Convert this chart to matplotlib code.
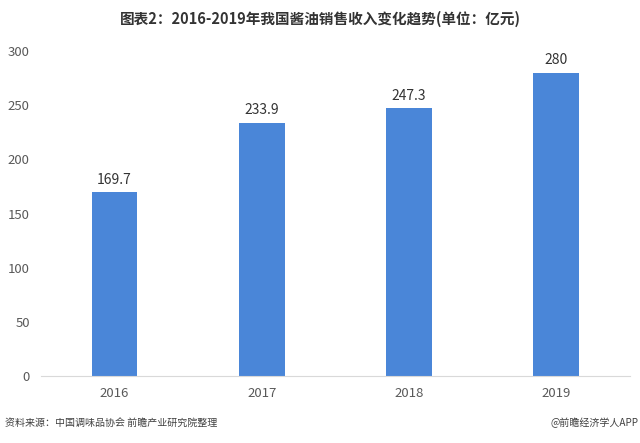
import matplotlib
matplotlib.use('Agg')
import matplotlib.pyplot as plt
import numpy as np

plt.rcParams['font.family'] = ['Noto Sans CJK SC', 'DejaVu Sans']

years = ['2016', '2017', '2018', '2019']
revenue = [169.7, 233.9, 247.3, 280]
yticks = [0, 50, 100, 150, 200, 250, 300]

fig = plt.figure(figsize=(6.4, 4.43), dpi=100)
ax = fig.add_axes([0.064, 0.151, 0.92, 0.734])

x = np.arange(len(years))
ax.bar(x, revenue, width=0.31, color='#4a86d8', zorder=2)
for xi, v in zip(x, revenue):
    ax.text(xi, v + 5, f'{v:g}', ha='center', va='bottom', fontsize=10, color='#333333')

ax.set_xlim(-0.5, 3.5)
ax.set_ylim(0, 300)
ax.set_xticks(x)
ax.set_xticklabels(years)
ax.set_yticks(yticks)
ax.tick_params(axis='both', length=0, labelsize=9.5, labelcolor='#595959')
ax.tick_params(axis='x', pad=8)
ax.tick_params(axis='y', pad=8)
for s in ['top', 'right', 'left']:
    ax.spines[s].set_visible(False)
ax.spines['bottom'].set_color('#d9d9d9')

fig.text(0.5, 0.958, '图表2：2016-2019年我国酱油销售收入变化趋势(单位：亿元)',
         ha='center', va='center', fontsize=10.5, fontweight='bold', color='#333333')
fig.text(0.008, 0.045, '资料来源：中国调味品协会 前瞻产业研究院整理',
         ha='left', va='center', fontsize=7.2, color='#404040')
fig.text(0.998, 0.045, '@前瞻经济学人APP',
         ha='right', va='center', fontsize=7.2, color='#404040')

fig.savefig('out.png', dpi=100)
